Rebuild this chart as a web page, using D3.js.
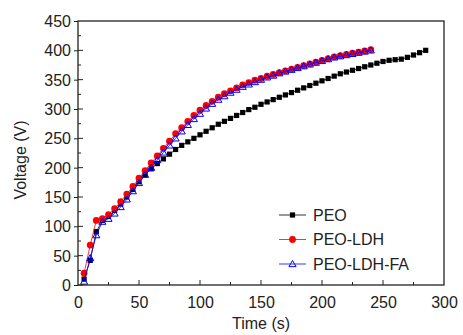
<!DOCTYPE html>
<html><head><meta charset="utf-8">
<script src="https://cdn.jsdelivr.net/npm/d3@7"></script>
<style>body{margin:0;background:#fff}svg{display:block}text{font-family:"Liberation Sans",Arial,sans-serif}</style>
</head><body><svg id="c" width="463" height="335"></svg>
<script>
const timeLong = [5,10,15,20,25,30,35,40,45,50,55,60,65,70,75,80,85,90,95,100,105,110,115,120,125,130,135,140,145,150,155,160,165,170,175,180,185,190,195,200,205,210,215,220,225,230,235,240,245,250,255,260,265,270,275,280,285];
const timeShort = timeLong.slice(0, 48);
const peo = [10,42,91,110,117,127,138,150,163,176,188,198,207,215,223,231,238,244,250,256,262,268,274,279,284,289,294,299,303,308,312,316,320,324,328,332,336,340,344,348,352,356,360,363,366,369,372,375,378,381,383,384,385,388,392,396,400];
const peoLdh = [20,68,110,113,120,130,142,155,168,182,195,208,220,233,245,258,268,279,289,298,306,313,320,326,331,336,341,345,349,352,356,359,362,365,368,371,374,377,380,383,386,389,391,393,395,397,399,401];
const peoLdhFa = [6,46,85,108,113,122,133,146,160,174,188,200,213,226,238,250,262,273,283,292,301,309,316,322,328,333,338,342,346,350,354,357,361,364,367,370,373,376,379,382,385,388,390,392,394,396,398,400];
const seriesNames = ["PEO","PEO-LDH","PEO-LDH-FA"];
const xTicks = [0,50,100,150,200,250,300];
const yTicks = [0,50,100,150,200,250,300,350,400,450];

const svg = d3.select("#c");
const L=78,R=444,T=21,B=285;
const x = d3.scaleLinear().domain([0,300]).range([L,R]);
const y = d3.scaleLinear().domain([0,450]).range([B,T]);

const series = [
  {name:seriesNames[0], t:timeLong, v:peo, color:"#000", shape:"square"},
  {name:seriesNames[1], t:timeShort, v:peoLdh, color:"#ff0000", shape:"circle"},
  {name:seriesNames[2], t:timeShort, v:peoLdhFa, color:"#0000ff", shape:"triangle"}
];

function drawMarker(g, shape, color, cx, cy){
  if(shape==="square") g.append("rect").attr("x",cx-2.6).attr("y",cy-2.6).attr("width",5.2).attr("height",5.2).attr("fill",color);
  else if(shape==="circle") g.append("circle").attr("cx",cx).attr("cy",cy).attr("r",3.4).attr("fill",color);
  else g.append("path").attr("d",d3.symbol(d3.symbolTriangle,22)()).attr("transform",`translate(${cx},${cy+0.6})`).attr("fill","none").attr("stroke",color).attr("stroke-width",1);
}

const line = d3.line().x(d=>x(d[0])).y(d=>y(d[1]));
series.forEach(s=>{
  const pts = s.t.map((t,i)=>[t,s.v[i]]);
  svg.append("path").attr("d",line(pts)).attr("fill","none").attr("stroke",s.color).attr("stroke-width",0.8);
  const g = svg.append("g");
  pts.forEach(p=>drawMarker(g,s.shape,s.color,x(p[0]),y(p[1])));
});

// axes
const xAx = svg.append("g").attr("transform",`translate(0,${B})`)
  .call(d3.axisBottom(x).tickValues(xTicks).tickSize(0).tickPadding(12));
const yAx = svg.append("g").attr("transform",`translate(${L},0)`)
  .call(d3.axisLeft(y).tickValues(yTicks).tickSize(4).tickPadding(3));
[xAx,yAx].forEach(a=>{a.select(".domain").remove();a.selectAll("text").attr("font-size",16).attr("fill","#222");a.selectAll("line").attr("stroke","#222");});
yAx.selectAll(".tick text").attr("dy","0.34em");
// inner ticks
const minorX = d3.range(0,301,25), minorY = d3.range(0,451,25);
minorX.forEach(v=>{const major=v%50===0; if(v===0||v===300)return;
  svg.append("line").attr("x1",x(v)).attr("x2",x(v)).attr("y1",B).attr("y2",B-(major?5:3)).attr("stroke","#222");});
minorY.forEach(v=>{const major=v%50===0; if(v===450)return;
  svg.append("line").attr("x1",L).attr("x2",L+(major?5:3)).attr("y1",y(v)).attr("y2",y(v)).attr("stroke","#222");});
svg.append("rect").attr("x",L).attr("y",T).attr("width",R-L).attr("height",B-T).attr("fill","none").attr("stroke","#222").attr("stroke-width",1.3);

svg.append("text").attr("x",(L+R)/2).attr("y",329).attr("text-anchor","middle").attr("font-size",16).attr("fill","#222").text("Time (s)");
svg.append("text").attr("transform","translate(26,160) rotate(-90)").attr("text-anchor","middle").attr("font-size",16).attr("fill","#222").text("Voltage (V)");

// legend
series.forEach((s,i)=>{
  const ly = 215 + i*24.5;
  svg.append("line").attr("x1",279).attr("x2",306).attr("y1",ly).attr("y2",ly).attr("stroke",s.color).attr("stroke-width",0.8);
  drawMarker(svg,s.shape,s.color,292.5,ly);
  svg.append("text").attr("x",313).attr("y",ly).attr("dy","0.36em").attr("font-size",16).attr("fill","#222").text(s.name);
});
</script></body></html>
